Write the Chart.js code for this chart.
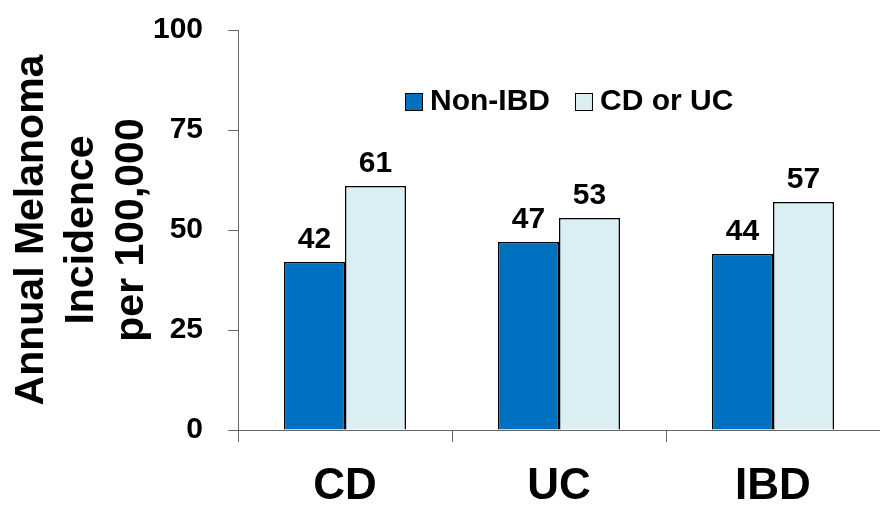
<!DOCTYPE html>
<html>
<head>
<meta charset="utf-8">
<script src="https://cdn.jsdelivr.net/npm/chart.js@4/dist/chart.umd.min.js"></script>
<style>
  html, body { margin: 0; padding: 0; background: #ffffff; }
  #wrap { width: 880px; height: 505px; }
</style>
</head>
<body>
<div id="wrap"><canvas id="chart" width="880" height="505"></canvas></div>
<script>
// Annual melanoma incidence per 100,000
const categories = ['CD', 'UC', 'IBD'];
const seriesNames = ['Non-IBD', 'CD or UC'];
const nonIbd = [42, 47, 44];
const cdOrUc = [61, 53, 57];
const yTicks = [0, 25, 50, 75, 100];
const yTitle = ['Annual Melanoma', 'Incidence', 'per 100,000'];

const FONT = "'Liberation Sans', Arial, Helvetica, sans-serif";
const AXIS = '#666666';

// value printed above each bar
const valueLabels = {
  id: 'valueLabels',
  afterDatasetsDraw(chart) {
    const ctx = chart.ctx;
    ctx.save();
    ctx.font = 'bold 30px ' + FONT;
    ctx.fillStyle = '#000';
    ctx.textAlign = 'center';
    ctx.textBaseline = 'alphabetic';
    chart.data.datasets.forEach((ds, i) => {
      chart.getDatasetMeta(i).data.forEach((bar, j) => {
        ctx.fillText(String(ds.data[j]), bar.x, bar.y - 14);
      });
    });
    ctx.restore();
  }
};

// legend row drawn inside the plot area
const innerLegend = {
  id: 'innerLegend',
  afterDraw(chart) {
    const ctx = chart.ctx;
    const area = chart.chartArea;
    let x = area.left + 167;
    const cy = area.top + 72;
    ctx.save();
    ctx.font = 'bold 30px ' + FONT;
    ctx.textBaseline = 'middle';
    ctx.textAlign = 'left';
    chart.data.datasets.forEach((ds) => {
      ctx.fillStyle = ds.backgroundColor;
      ctx.fillRect(x, cy - 9, 18, 18);
      ctx.strokeStyle = '#000';
      ctx.lineWidth = 1;
      ctx.strokeRect(x + 0.5, cy - 8.5, 17, 17);
      ctx.fillStyle = '#000';
      ctx.fillText(ds.label, x + 25, cy);
      x += 25 + ctx.measureText(ds.label).width + 25;
    });
    ctx.restore();
  }
};

new Chart(document.getElementById('chart'), {
  type: 'bar',
  data: {
    labels: categories,
    datasets: [
      {
        label: seriesNames[0],
        data: nonIbd,
        backgroundColor: '#0070C0',
        borderColor: '#000000',
        borderWidth: 1.5,
        categoryPercentage: 0.57,
        barPercentage: 1.0
      },
      {
        label: seriesNames[1],
        data: cdOrUc,
        backgroundColor: '#DAEEF3',
        borderColor: '#000000',
        borderWidth: 1.5,
        categoryPercentage: 0.57,
        barPercentage: 1.0
      }
    ]
  },
  options: {
    responsive: false,
    animation: false,
    layout: { padding: { top: 30, left: 0, right: 0, bottom: 0 } },
    plugins: {
      legend: { display: false },
      tooltip: { enabled: false }
    },
    scales: {
      x: {
        grid: {
          display: true,
          drawOnChartArea: false,
          drawTicks: true,
          tickLength: 12,
          tickColor: AXIS,
          offset: true
        },
        border: { display: true, color: AXIS, width: 1 },
        ticks: {
          color: '#000',
          padding: 18,
          font: { family: FONT, size: 44, weight: 'bold' }
        },
        afterFit(scale) {
          scale.height = 75;
          scale.paddingLeft = 0;
          scale.paddingRight = 0;
        }
      },
      y: {
        min: 0,
        max: 100,
        afterBuildTicks(scale) { scale.ticks = yTicks.map(v => ({ value: v })); },
        grid: {
          display: true,
          drawOnChartArea: false,
          drawTicks: true,
          tickLength: 10,
          tickColor: AXIS
        },
        border: { display: true, color: AXIS, width: 1 },
        ticks: {
          color: '#000',
          padding: 25,
          font: { family: FONT, size: 30, weight: 'bold' }
        },
        title: {
          display: true,
          text: yTitle,
          color: '#000',
          padding: { top: 7, bottom: 0 },
          font: { family: FONT, size: 41, weight: 'bold', lineHeight: 1.22 }
        },
        afterFit(scale) {
          scale.width = 238;
          scale.paddingTop = 0;
          scale.paddingBottom = 0;
        }
      }
    }
  },
  plugins: [valueLabels, innerLegend]
});
</script>
</body>
</html>
